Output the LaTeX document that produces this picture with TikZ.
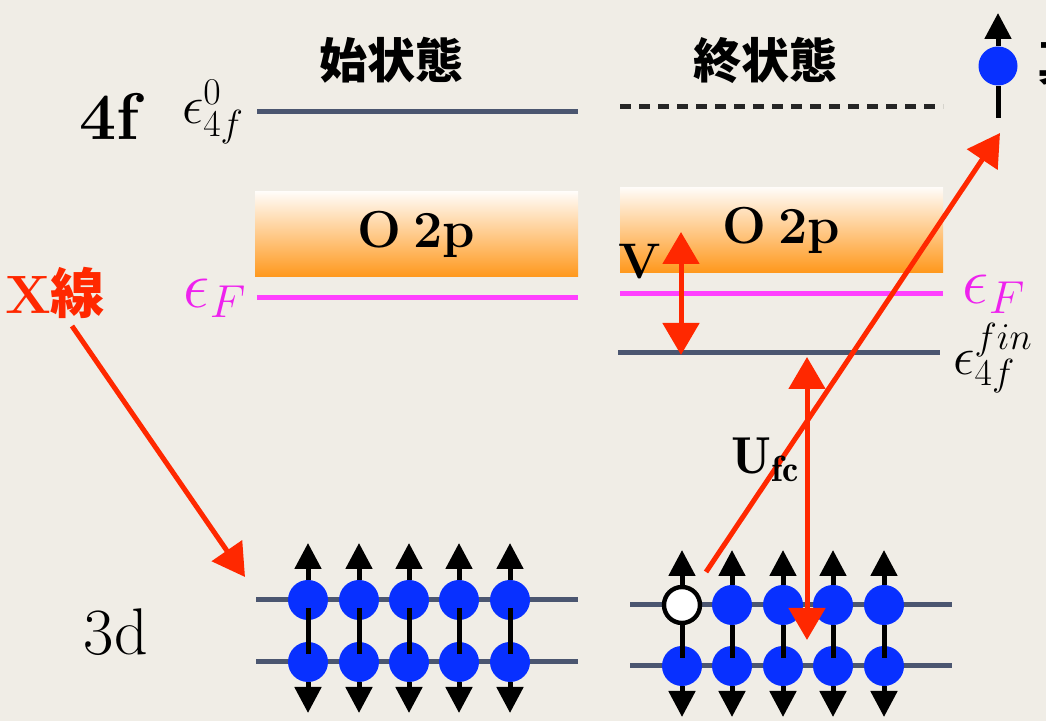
\RequirePackage{fix-cm}
\documentclass[tikz,border=0pt]{standalone}
\usepackage{fontspec}
\newfontfamily\cjk{Noto Sans CJK JP}
\usepackage{tikz}
\usetikzlibrary{arrows.meta, positioning}
\definecolor{bg}{RGB}{240,237,230}
\definecolor{lvl}{RGB}{75,86,112}
\definecolor{fermi}{RGB}{255,64,255}
\definecolor{fermitxt}{RGB}{238,34,238}
\definecolor{eblue}{RGB}{8,48,255}
\definecolor{xred}{RGB}{255,40,0}
\definecolor{bandor}{RGB}{255,152,28}

\begin{document}
\begin{tikzpicture}[
    x=0.5pt, y=-0.5pt,
    lvlline/.style={line width=2.5pt, draw=lvl},
    efline/.style={line width=2.5pt, draw=fermi},
    %% O 2p band: 323 x 85 px, pale top -> orange bottom
    bandbox/.style={rectangle, inner sep=0pt, minimum width=161.5pt,
                    minimum height=42.5pt, top color=bandor!3!white,
                    bottom color=bandor, font=\fontsize{26}{26}\selectfont\bfseries},
    stitle/.style={font=\cjk\bfseries\fontsize{24}{24}\selectfont},
    orb/.style={font=\fontsize{33}{33}\selectfont},
    mlab/.style={font=\fontsize{27}{27}\selectfont},
    elec/.style={circle, fill=eblue, minimum size=20pt, inner sep=0pt},
    hole/.style={circle, fill=white, draw=black, line width=2.2pt,
                 minimum size=18pt, inner sep=0pt},
    spin/.style={-{Triangle[width=13pt, length=13pt]}, line width=2.5pt},
    shaft/.style={line width=2.5pt},
    xarr/.style={-{Triangle[width=18pt, length=16pt]}, line width=2.5pt, xred},
    xdbl/.style={{Triangle[width=18pt, length=16pt]}-{Triangle[width=18pt, length=16pt]},
                 line width=2.5pt, xred},
]

  %% ---- canvas ----
  \useasboundingbox (0,0) rectangle (1046,721);
  \fill[bg] (0,0) rectangle (1046,721);

  %% ---- headings ----
  \node[stitle] (tinit) at (391,60) {始状態};
  \node[stitle] (tfin)  at (765,60) {終状態};
  \node[stitle, anchor=west] (tvac) at (1030,62) {真};

  %% ---- row labels ----
  \node[orb, font=\fontsize{33}{33}\selectfont\bfseries] (l4f) at (109,116) {4f};
  \node[orb] (l3d) at (116,632) {3d};
  \node[font=\fontsize{27}{27}\selectfont\bfseries, text=xred] (xray) at (55,293)
       {X{\cjk\bfseries 線}};

  %% ---- initial state levels ----
  \draw[lvlline] (257,112) -- (578,112);
  \node[mlab] (e0) at (213,112) {$\epsilon^0_{4f}$};
  \node[bandbox] (bi) at (416.5,234.5) {O\hspace{0.22em}2p};
  \draw[efline] (257,298) -- (578,298);
  \node[font=\fontsize{33}{33}\selectfont, text=fermitxt] (efi) at (215,298) {$\epsilon_F$};

  %% ---- final state levels ----
  \draw[line width=2.5pt, dash pattern=on 5.5pt off 4pt, black!85] (620,107) -- (943,107);
  \node[bandbox] (bf) at (781.5,230) {O\hspace{0.22em}2p};
  \draw[efline] (620,294) -- (943,294);
  \node[font=\fontsize{33}{33}\selectfont, text=fermitxt] (eff) at (994,294) {$\epsilon_F$};
  \draw[lvlline] (618,353) -- (940,353);
  \node[mlab] (efin) at (993,358) {$\epsilon^{fin}_{4f}$};

  %% ---- 3d levels ----
  \draw[lvlline] (256,600) -- (578,600);
  \draw[lvlline] (256,662) -- (578,662);
  \draw[lvlline] (630,605) -- (952,605);
  \draw[lvlline] (630,666) -- (952,666);

  %% ---- initial 3d electrons ----
  \foreach \i/\x in {1/308, 2/359, 3/409, 4/459, 5/510} {
    \node[elec] (iu\i) at (\x,600) {};
    \node[elec] (il\i) at (\x,662) {};
    \coordinate (iut\i) at (\x,543);
    \coordinate (ilt\i) at (\x,713);
    \draw[shaft] ([yshift=-4pt]iu\i.center) -- ([yshift=4pt]il\i.center);
    \draw[spin] (iu\i.north) -- (iut\i);
    \draw[spin] (il\i.south) -- (ilt\i);
  }

  %% ---- final 3d electrons (first one left a hole) ----
  \node[hole] (fu1) at (682,605) {};
  \foreach \i/\x in {2/732, 3/783, 4/833, 5/884} {
    \node[elec] (fu\i) at (\x,605) {};
  }
  \foreach \i/\x in {1/682, 2/732, 3/783, 4/833, 5/884} {
    \node[elec] (fl\i) at (\x,666) {};
    \coordinate (fut\i) at (\x,550);
    \coordinate (flt\i) at (\x,717);
    \draw[shaft] (fu\i.south) -- ([yshift=4pt]fl\i.center);
    \draw[spin] (fu\i.north) -- (fut\i);
    \draw[spin] (fl\i.south) -- (flt\i);
  }

  %% ---- photo-electron at the top right ----
  \node[elec, minimum size=19.5pt] (vac) at (998,66) {};
  \coordinate (vact) at (998,13);
  \coordinate (vacb) at (998,118);
  \draw[shaft] (vac.south) -- (vacb);
  \draw[spin] (vac.north) -- (vact);

  %% ---- red hand-drawn arrows ----
  \coordinate (xs)   at (72,326);
  \coordinate (xt)   at (245,577);
  \coordinate (vtop) at (681,232);
  \coordinate (vbot) at (681,355);
  \coordinate (utop) at (807,357);
  \coordinate (ubot) at (807,640);
  \coordinate (hs)   at (706,572);
  \coordinate (pe)   at (1000,133);

  \draw[xarr] (xs) -- (xt);
  \draw[xdbl] (vbot) -- (vtop);
  \draw[xdbl] (ubot) -- (utop);
  \draw[xarr] (hs) -- (pe);

  \node[font=\fontsize{25}{25}\selectfont\bfseries] (lv) at (640,262) {V};
  \node[font=\fontsize{26}{26}\selectfont] (lu) at (766,460) {$\mathbf{U}_{\mathbf{fc}}$};

\end{tikzpicture}
\end{document}
